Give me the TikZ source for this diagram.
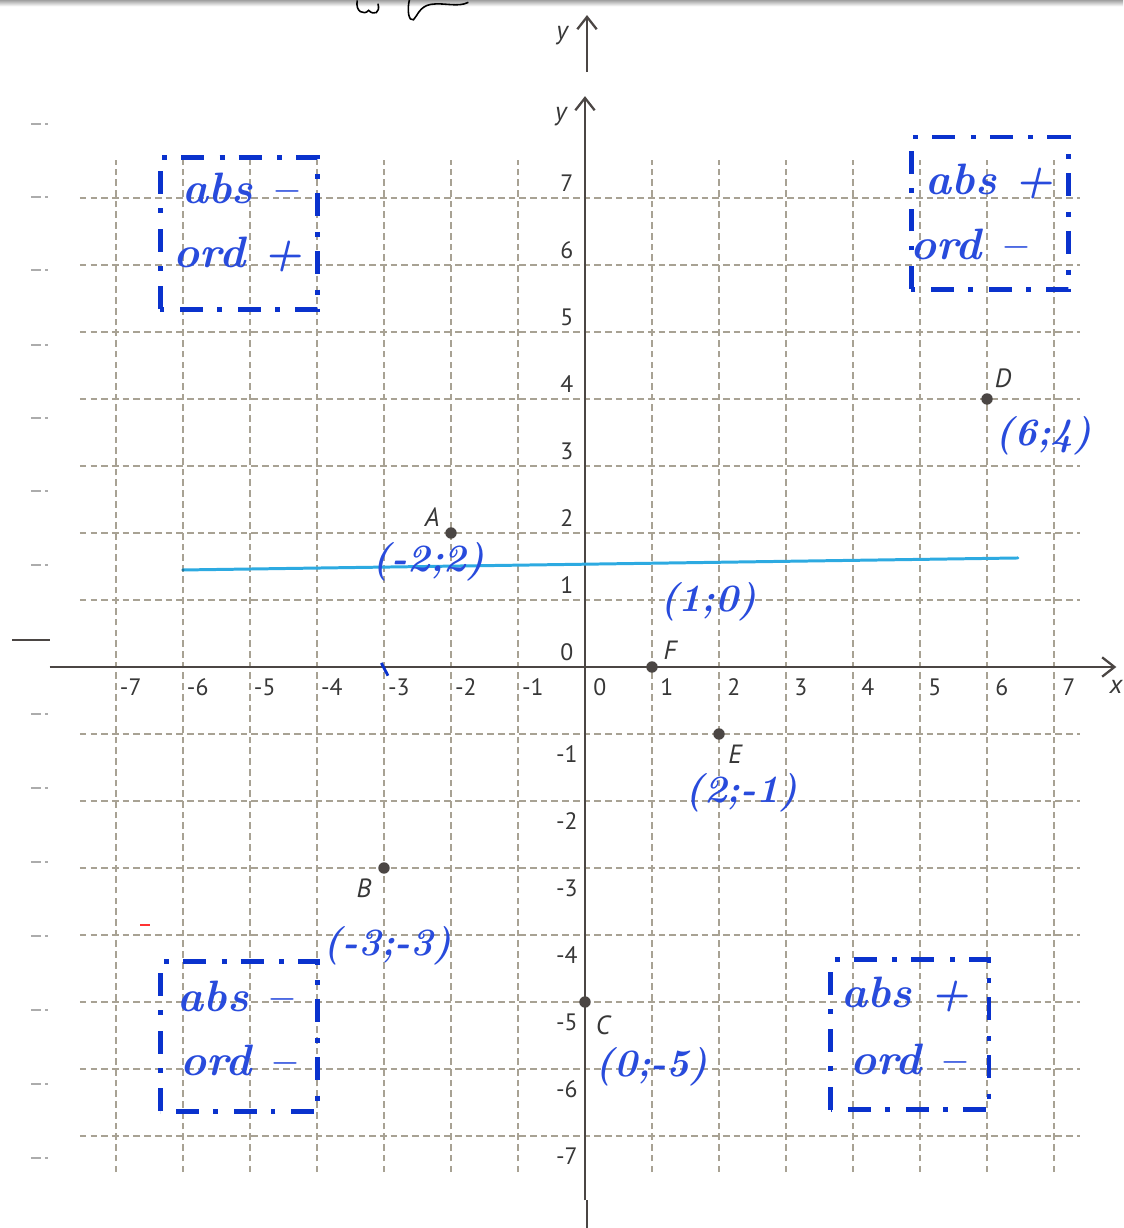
\documentclass[tikz,border=0pt]{standalone}
\usepackage{fontspec}
\setsansfont{PT Sans}
\usetikzlibrary{arrows.meta}
\definecolor{gridc}{RGB}{168,162,148}
\definecolor{axc}{RGB}{75,70,68}
\definecolor{pen}{RGB}{40,75,220}
\definecolor{boxc}{RGB}{10,50,205}
\definecolor{cyanl}{RGB}{45,170,225}
\definecolor{lab}{RGB}{55,55,55}
\begin{document}
\begin{tikzpicture}[x=1.34cm,y=1.34cm,
  gridline/.style={gridc, line width=1.05pt, dash pattern=on 3.8pt off 2.3pt},
  axisline/.style={axc, line width=1.3pt},
  axisarrow/.style={axisline, -{Straight Barb[length=7pt,width=11pt,line width=1.3pt]}},
  ticklab/.style={lab, font=\sffamily\fontsize{13.5}{13.5}\selectfont, inner sep=0pt},
  ptlab/.style={lab, font=\sffamily\itshape\fontsize{15}{15}\selectfont, inner sep=0pt},
  ptdot/.style={circle, fill=axc, inner sep=0pt, minimum size=6.5pt},
  hand/.style={pen, font=\bfseries\itshape\fontsize{22}{22}\selectfont, inner sep=0pt},
  boxtext/.style={pen, font=\bfseries\itshape\fontsize{25}{25}\selectfont, inner sep=0pt},
  quadbox/.style={boxc, line width=2.8pt, dash pattern=on 13pt off 9pt on 2.8pt off 8pt},
  margmark/.style={gray!65, line width=1.1pt}
]
\useasboundingbox (-8.7313,-8.3731) rectangle (8.0299,9.9552);

% top page edge shading and stray handwriting
\shade[top color=gray!75, bottom color=white] (-8.7313,9.86) rectangle (8.0299,9.9552);
\draw[black, line width=0.9pt] (-3.40,9.95) .. controls (-3.43,9.78) and (-3.30,9.72) .. (-3.23,9.80)
  .. controls (-3.15,9.72) and (-3.05,9.76) .. (-3.09,9.90);
\draw[black, line width=0.9pt] (-2.62,9.96) .. controls (-2.66,9.80) and (-2.63,9.63) .. (-2.56,9.66)
  .. controls (-2.50,9.72) and (-2.47,9.86) .. (-2.30,9.89)
  .. controls (-2.10,9.92) and (-1.90,9.84) .. (-1.74,9.92);

% stray upper axis
\coordinate (ty0) at (0.03,8.88);
\coordinate (ty1) at (0.03,9.73);
\draw[axisarrow] (ty0) -- (ty1);
\node[ptlab] (ylabtop) at (-0.34,9.43) {y};

% left margin marks
\foreach \p in {124,197,270,345,418,491,565,714,788,862,936,1010,1084,1158}{
  \draw[margmark] (-8.27,{(667-\p)/67}) -- (-8.12,{(667-\p)/67});
  \draw[margmark] (-8.06,{(667-\p)/67}) -- (-8.01,{(667-\p)/67});
}
\draw[axc, line width=1.4pt] (-8.55,0.403) -- (-7.99,0.403);
\draw[red!80, line width=1.2pt] (-6.64,-3.85) -- (-6.49,-3.85);

% grid
\foreach \i in {-7,...,7}{
  \ifnum\i=0\else
  \draw[gridline] (\i,-7.54) -- (\i,7.57);
  \draw[gridline] (-7.54,\i) -- (7.39,\i);
  \fi
}

% axes
\coordinate (xa0) at (-7.99,0);
\coordinate (xa1) at (7.93,0);
\coordinate (ya0) at (0,-7.96);
\coordinate (ya1) at (0,8.52);
\draw[axisarrow] (xa0) -- (xa1);
\draw[axisarrow] (ya0) -- (ya1);
\draw[axc, line width=1.6pt] (0.03,-7.96) -- (0.03,-8.38);
\node[ptlab, anchor=east] (xlab) at (8.025,-0.30) {x};
\node[ptlab] (ylab) at (-0.36,8.21) {y};

% tick labels
\foreach \k in {-7,...,7}{
  \node[ticklab] at ({\k+0.22},-0.30) {\k};
}
\foreach \k in {0,...,7}{
  \node[ticklab] at (-0.27,{\k+0.22}) {\k};
}
\foreach \k in {-7,...,-1}{
  \node[ticklab] at (-0.27,{\k-0.30}) {\k};
}

% cyan line
\coordinate (c0) at (-6.0,1.448);
\coordinate (c1) at (6.46,1.627);
\draw[cyanl, line width=1.7pt, line cap=round] (c0) -- (c1);
\fill[cyanl!70!black] (c0) circle (0.025);

% stray blue tick at -3
\draw[boxc, line width=1.6pt] (-3.04,0.06) -- (-2.94,-0.13);

% points
\node[ptdot] (A) at (-2,2) {};
\node[ptdot] (B) at (-3,-3) {};
\node[ptdot] (C) at (0,-5) {};
\node[ptdot] (D) at (6,4) {};
\node[ptdot] (E) at (2,-1) {};
\node[ptdot] (F) at (1,0) {};
\node[ptlab] (Al) at (-2.28,2.24) {A};
\node[ptlab] (Bl) at (-3.30,-3.31) {B};
\node[ptlab] (Cl) at (0.27,-5.34) {C};
\node[ptlab] (Dl) at (6.24,4.31) {D};
\node[ptlab] (El) at (2.24,-1.31) {E};
\node[ptlab] (Fl) at (1.27,0.25) {F};

% handwritten coordinates
\node[hand] (Ac) at (-2.33,1.57) {(-2;2)};
\node[hand] (Fc) at (1.84,0.97) {(1;0)};
\node[hand] (Ec) at (2.34,-1.88) {(2;-1)};
\node[hand] (Bc) at (-2.94,-4.16) {(-3;-3)};
\node[hand] (Cc) at (1.0,-5.97) {(0;-5)};
\node[hand] (Dc) at (6.85,3.45) {(6;4)};

% quadrant boxes
\draw[quadbox] (-6.34,5.34) rectangle (-3.99,7.61);
\draw[quadbox] (4.87,5.64) rectangle (7.22,7.91);
\draw[quadbox] (-6.34,-6.63) rectangle (-3.99,-4.39);
\draw[quadbox] (3.67,-6.61) rectangle (6.03,-4.37);

\node[boxtext] (tl1) at (-5.15,7.15) {abs –};
\node[boxtext] (tl2) at (-5.18,6.15) {ord +};
\node[boxtext] (tr1) at (6.04,7.25) {abs +};
\node[boxtext] (tr2) at (5.72,6.30) {ord –};
\node[boxtext] (bl1) at (-5.22,-4.92) {abs –};
\node[boxtext] (bl2) at (-5.18,-5.87) {ord –};
\node[boxtext] (br1) at (4.78,-4.89) {abs +};
\node[boxtext] (br2) at (4.82,-5.86) {ord –};
\end{tikzpicture}
\end{document}
